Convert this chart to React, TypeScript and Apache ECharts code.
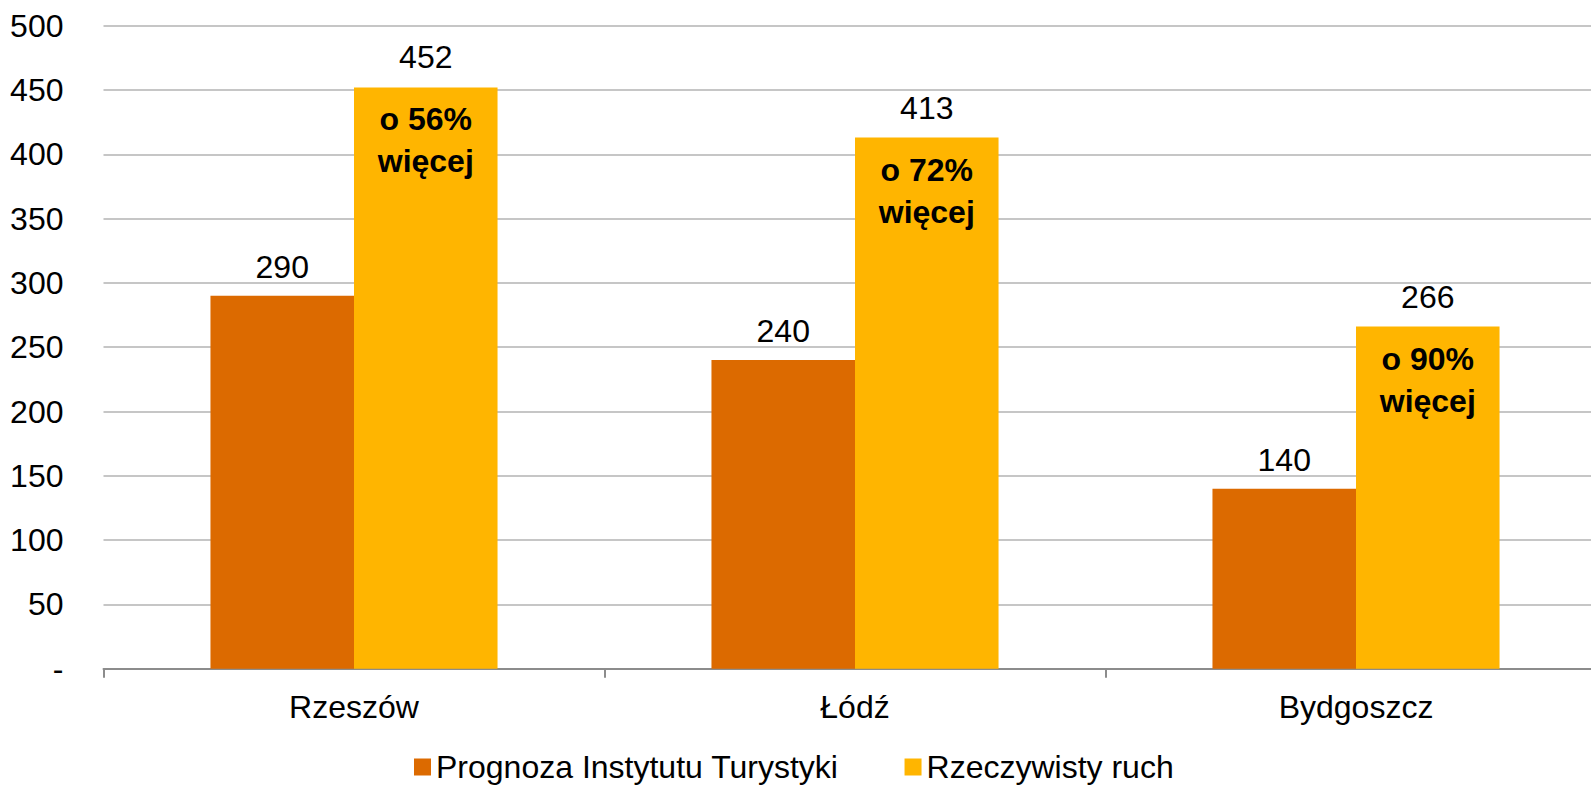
import React, { useEffect, useRef } from "react";
import * as echarts from "echarts";

const categories = ["Rzeszów", "Łódź", "Bydgoszcz"];
const forecast = [290, 240, 140];
const actual = [452, 413, 266];
const moreLabels = ["o 56%", "o 72%", "o 90%"];
const seriesNames = ["Prognoza Instytutu Turystyki", "Rzeczywisty ruch"];
const yTicks = { min: 0, max: 500, interval: 50 };

const FONT = "'Liberation Sans', Arial, sans-serif";

export default function App() {
  const ref = useRef<HTMLDivElement>(null);
  useEffect(() => {
    if (!ref.current) return;
    const chart = echarts.init(ref.current, null, { renderer: "svg" });
    chart.setOption({
      animation: false,
      textStyle: { fontFamily: FONT },
      grid: {
        left: 103.5,
        width: 1503,
        top: 25.7,
        height: 643,
        containLabel: false,
        outerBoundsMode: "none",
      },
      legend: {
        left: 409,
        top: 746,
        itemWidth: 17,
        itemHeight: 17,
        itemGap: 66,
        icon: "rect",
        textStyle: { fontSize: 32, color: "#000", fontFamily: FONT },
        data: seriesNames,
      },
      xAxis: {
        type: "category",
        data: categories,
        axisLine: { lineStyle: { color: "#8C8C8C", width: 2 } },
        axisTick: { show: true, length: 9, lineStyle: { color: "#8C8C8C", width: 2 } },
        axisLabel: { fontSize: 32, color: "#000", margin: 22, fontFamily: FONT },
      },
      yAxis: {
        type: "value",
        min: yTicks.min,
        max: yTicks.max,
        interval: yTicks.interval,
        axisLine: { show: false },
        axisTick: { show: false },
        splitLine: { lineStyle: { color: "#C6C6C6", width: 2 } },
        axisLabel: {
          fontSize: 32,
          color: "#000",
          margin: 40,
          fontFamily: FONT,
          formatter: (v: number) => (v === 0 ? "-" : String(v)),
        },
      },
      series: [
        {
          name: seriesNames[0],
          type: "bar",
          data: forecast,
          barGap: "0%",
          barCategoryGap: "42.7%",
          itemStyle: { color: "#DC6A00" },
          label: {
            show: true,
            position: "top",
            distance: 13,
            fontSize: 32,
            color: "#000",
            fontFamily: FONT,
          },
        },
        {
          name: seriesNames[1],
          type: "bar",
          data: actual,
          barGap: "0%",
          barCategoryGap: "42.7%",
          itemStyle: { color: "#FFB500" },
          label: {
            show: true,
            position: "insideTop",
            distance: 0,
            offset: [0, -71],
            fontFamily: FONT,
            formatter: (p: any) =>
              `{v|${p.value}}\n{p|${moreLabels[p.dataIndex]}}\n{p|więcej}`,
            rich: {
              v: { fontSize: 32, color: "#000", lineHeight: 82, fontFamily: FONT },
              p: { fontSize: 32, color: "#000", fontWeight: "bold", lineHeight: 42, fontFamily: FONT },
            },
          },
        },
      ],
    });
    return () => chart.dispose();
  }, []);
  return (
    <div
      ref={ref}
      style={{ position: "absolute", left: 0, top: 0, width: 1591, height: 789, background: "#fff", overflow: "hidden" }}
    />
  );
}
